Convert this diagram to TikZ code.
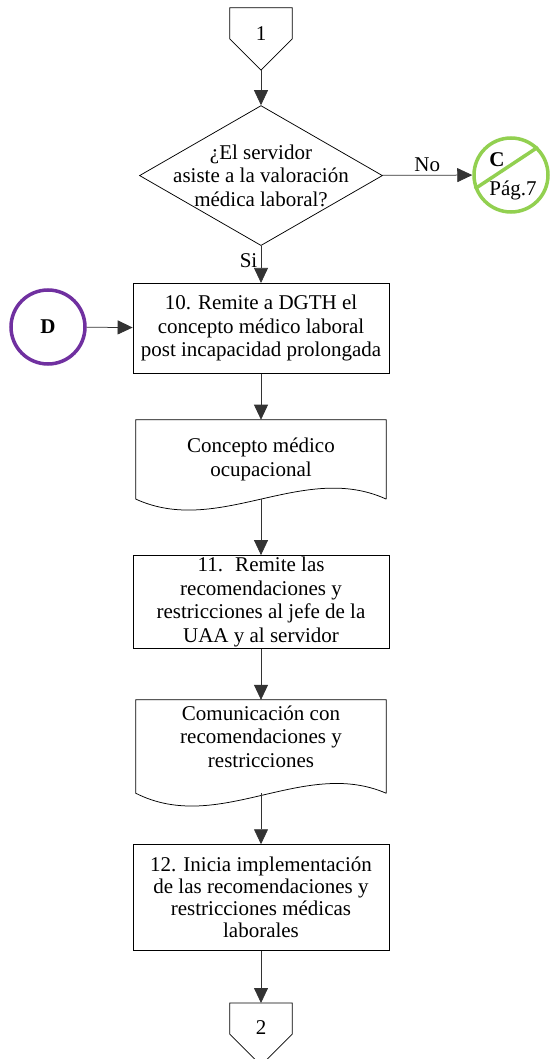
\documentclass[tikz,border=0pt]{standalone}
\usepackage{fontspec}
\setmainfont{Liberation Serif}
\usetikzlibrary{arrows.meta,shapes,positioning,calc}
\definecolor{verdeC}{RGB}{146,208,80}
\definecolor{moradoD}{RGB}{112,48,160}
\tikzset{
    proc/.style={
        rectangle,
        draw=black,
        line width=0.75pt,
        minimum width=256pt,
        align=center,
        inner sep=1pt,
    },
    docu/.style={
        rectangle,
        minimum width=250pt,
        align=center,
        inner sep=1pt,
    },
    dec/.style={
        diamond,
        draw=black,
        line width=0.75pt,
        minimum width=243pt,
        minimum height=140pt,
        inner sep=0pt,
    },
    offpg/.style={
        rectangle,
        minimum width=62pt,
        minimum height=62pt,
        inner sep=0pt,
    },
    conn/.style={
        circle,
        line width=3.5pt,
        minimum size=74pt,
        inner sep=0pt,
    },
    shapeline/.style={
        draw=black,
        line width=0.75pt,
    },
    every edge/.style={
        draw=black!80,
        -{Triangle[length=15pt,width=14pt]},
        line width=0.75pt,
    },
    font=\fontsize{21}{23.5}\selectfont,
  }

\begin{document}
\begin{tikzpicture}[x=1pt,y=-1pt]
              \useasboundingbox (0,0) rectangle (550,1059);
              \node [offpg] (off1) at (261,39) {\raisebox{10pt}{1}};
              \node [dec,below=35pt of off1,label={[align=center]center:¿El servidor\\asiste a la valoración\\médica laboral?}] (dia) {};
              \node [conn,draw=verdeC] (cC) at (511,175) {};
              \node [proc,below=37pt of dia,minimum height=90pt] (p10) {10. Remite a DGTH el\\concepto médico laboral\\post incapacidad prolongada};
              \node [conn,draw=moradoD] (cD) at (48,327) {\bfseries D};
              \node [docu,below=46pt of p10,minimum height=79pt] (d1) {Concepto médico\\ocupacional};
              \node [proc,below=56pt of d1,minimum height=93pt] (p11) {11.~ Remite las\\recomendaciones y\\restricciones al jefe de la\\UAA y al servidor};
              \node [docu,below=51pt of p11,minimum height=93pt,label={[align=center,yshift=10pt]center:Comunicación con\\recomendaciones y\\restricciones}] (d2) {};
              \node [proc,below=51pt of d2,minimum height=106pt,font=\fontsize{21}{22}\selectfont] (p12) {12. Inicia implementación\\de las recomendaciones y\\restricciones médicas\\laborales};
              \node [offpg,below=52pt of p12] (off2) {\raisebox{14pt}{2}};

              % conector C
              \draw [verdeC,line width=3.5pt] (cC.201) -- (cC.46);
              \node (cCa) at ($(cC)+(-14,-15)$) {\bfseries C};
              \node (cCb) at ($(cC)+(2,15)$) {Pág.7};

              % formas de pagina y documentos
              \draw [shapeline] (off1.north west) -- (off1.north east) -- (off1.east) -- (off1.south) -- (off1.west) -- cycle;
              \draw [shapeline] (off2.north west) -- (off2.north east) -- (off2.east) -- (off2.south) -- (off2.west) -- cycle;
              \draw [shapeline] (d1.south east) -- (d1.north east) -- (d1.north west) -- (d1.south west)
                    .. controls +(83,38) and +(-83,-38) .. (d1.south east);
              \draw [shapeline] (d2.south east) -- (d2.north east) -- (d2.north west) -- (d2.south west)
                    .. controls +(83,42) and +(-83,-36) .. (d2.south east);

              \draw (off1) edge (dia);
              \draw (dia) edge node[above] {No} (cC);
              \draw (dia) edge node[left,pos=0.4] {Si} (p10);
              \draw (cD) edge (p10);
              \draw (p10) edge (d1);
              \draw (d1) edge (p11);
              \draw (p11) edge (d2);
              \draw (d2) edge (p12);
              \draw (p12) edge (off2);
            \end{tikzpicture}
\end{document}
